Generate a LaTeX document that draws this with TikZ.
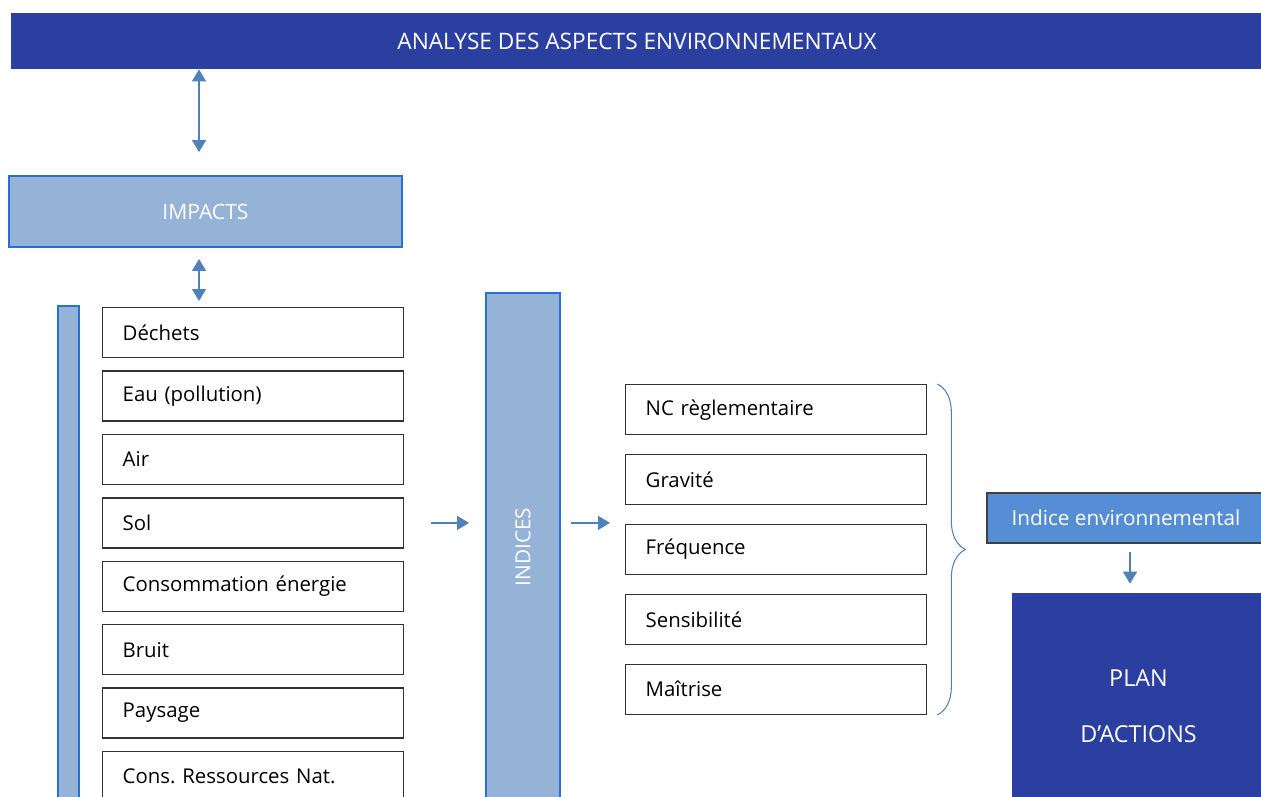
\documentclass[tikz,border=0pt]{standalone}
\usepackage{fontspec}
\setmainfont{Open Sans}
\usetikzlibrary{shapes,arrows.meta,positioning,decorations.pathreplacing}
\frenchspacing

\definecolor{navy}{RGB}{43,63,160}
\definecolor{paleblue}{RGB}{149,179,215}
\definecolor{edgeblue}{RGB}{40,112,212}
\definecolor{arrowblue}{RGB}{79,129,189}
\definecolor{midblue}{RGB}{85,142,213}

\begin{document}
\begin{tikzpicture}[
    x=0.02cm, y=-0.02cm,
    node distance=0.24cm,
    banner/.style={fill=navy, text=white, minimum width=25.04cm, minimum height=1.12cm, font=\fontsize{12.9}{15}\selectfont},
    group/.style={draw=edgeblue, line width=1.1pt, fill=paleblue, text=white, font=\fontsize{12}{14}\selectfont},
    item/.style={draw=black!80, line width=0.8pt, fill=white, text width=5.22cm, inner xsep=0.4cm, minimum height=1cm, align=left, font=\fontsize{11.6}{14}\selectfont},
    arrow/.style={-{Triangle[width=0.28cm,length=0.24cm]}, draw=arrowblue, fill=arrowblue, line width=0.8pt},
    both/.style={arrow, {Triangle[width=0.28cm,length=0.24cm]}-{Triangle[width=0.28cm,length=0.24cm]}}
]
\useasboundingbox (0,0) rectangle (1261,796);
\clip (0,0) rectangle (1261,796);

% Header
\node[banner] (analyse) at (637,41) {ANALYSE DES ASPECTS ENVIRONNEMENTAUX};

% Impacts
\node[group, minimum width=7.86cm, minimum height=1.42cm] (impacts) at (205.5,211.5) {\raisebox{-0.1cm}{IMPACTS}};
\node[group, minimum width=0.42cm, minimum height=10cm] (impbar) at (68.5,556) {};

% Impact list
\node[item, anchor=north west] (dechets) at (102,307) {Déchets};
\node[item, below=of dechets] (eau) {Eau (pollution)};
\node[item, below=of eau] (air) {Air};
\node[item, below=of air] (sol) {Sol};
\node[item, below=of sol] (energie) {Consommation énergie};
\node[item, below=of energie] (bruit) {Bruit};
\node[item, below=of bruit] (paysage) {Paysage};
\node[item, below=of paysage] (ressources) {Cons. Ressources Nat.};

% Indices
\node[group, minimum width=1.48cm, minimum height=10.16cm, font=\fontsize{11.8}{13}\selectfont] (indices) at (523,547) {\rotatebox{90}{INDICES}};

% Criteria
\node[item, anchor=north west] (nc) at (625,384) {NC règlementaire};
\node[item, below=0.37cm of nc] (gravite) {Gravité};
\node[item, below=0.37cm of gravite] (frequence) {Fréquence};
\node[item, below=0.37cm of frequence] (sensibilite) {Sensibilité};
\node[item, below=0.37cm of sensibilite] (maitrise) {Maîtrise};

% Result
\node[draw=black!75, line width=0.8pt, fill=midblue, text=white, minimum width=5.56cm, minimum height=1cm, font=\fontsize{11.8}{13}\selectfont] (indice) at (1126,518) {Indice environnemental};
\node[fill=navy, text=white, minimum width=5.06cm, minimum height=4.52cm, align=center, font=\fontsize{13.3}{31.7}\selectfont] (plan) at (1138.5,706) {PLAN\\D’ACTIONS};

% Arrows
\draw[both, shorten >=0.46cm] ([xshift=-0.13cm]impacts.north |- analyse.south) -- ([xshift=-0.13cm]impacts.north);
\draw[both, shorten <=0.22cm, shorten >=0.12cm] ([xshift=-0.13cm]impacts.south) -- ([xshift=-0.13cm]impacts.south |- dechets.north);
\draw[arrow, shorten <=0.54cm, shorten >=0.32cm] (sol.east) -- (sol.east -| indices.west);
\draw[arrow, shorten <=0.2cm, shorten >=0.3cm] (indices.east |- sol.east) -- (frequence.west |- sol.east);
\draw[arrowblue, line width=0.6pt, decorate, decoration={brace, amplitude=0.56cm}] ([xshift=0.2cm]nc.north east) -- ([xshift=0.2cm]maitrise.south east);
\draw[arrow, shorten <=0.16cm, shorten >=0.18cm] ([xshift=0.08cm]indice.south) -- ([xshift=0.08cm]indice.south |- plan.north);

\end{tikzpicture}
\end{document}
